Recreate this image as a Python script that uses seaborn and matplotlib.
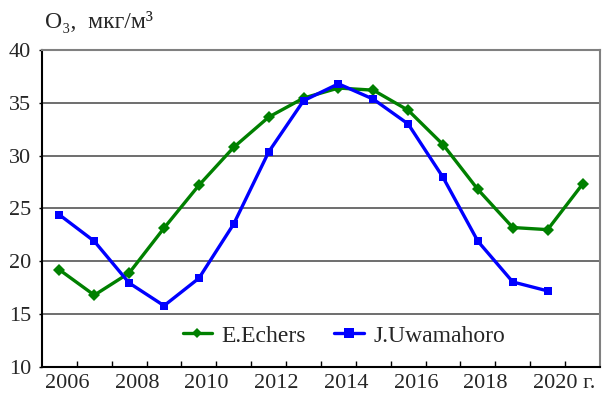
import numpy as np
import pandas as pd
import matplotlib
matplotlib.use("Agg")
import matplotlib.pyplot as plt
import seaborn as sns

years_echers = list(range(2006, 2022))
o3_echers = [19.2, 16.8, 18.9, 23.15, 27.2, 30.8, 33.65, 35.45, 36.4, 36.2, 34.3, 31.05, 26.8, 23.2, 23.0, 27.3]

years_uwam = list(range(2006, 2021))
o3_uwam = [24.4, 21.9, 17.95, 15.8, 18.4, 23.55, 30.35, 35.2, 36.8, 35.35, 33.0, 27.95, 21.9, 18.05, 17.2]

label_years = [2006, 2008, 2010, 2012, 2014, 2016, 2018, 2020]
tick_labels = ["2006", "2008", "2010", "2012", "2014", "2016", "2018", "2020 г."]
y_ticks = [10, 15, 20, 25, 30, 35, 40]

df = pd.concat([
    pd.DataFrame({"year": years_echers, "o3": o3_echers, "source": "E.Echers"}),
    pd.DataFrame({"year": years_uwam, "o3": o3_uwam, "source": "J.Uwamahoro"}),
])

sns.set_style("white")
plt.rcParams["font.family"] = "serif"
plt.rcParams["font.serif"] = ["Liberation Serif", "DejaVu Serif", "Times New Roman"]

fig = plt.figure(figsize=(6.06, 4.0), dpi=100)
ax = fig.add_axes([0.0693, 0.0825, 0.9207, 0.7925])

for y in y_ticks[1:-1]:
    ax.axhline(y, color="#555555", lw=1.2, zorder=0)

sns.lineplot(data=df, x="year", y="o3", hue="source", style="source",
             palette={"E.Echers": "#008000", "J.Uwamahoro": "#0000FF"},
             markers={"E.Echers": "D", "J.Uwamahoro": "s"},
             dashes=False, lw=2.4, ax=ax,
             markeredgewidth=0)
for line, ms in zip(ax.lines[-2:], [5.5, 7.5]):
    line.set_markersize(ms)

ax.set_xlim(2005.5, 2021.5)
ax.set_ylim(10, 40)
ax.set_yticks(y_ticks)
ax.tick_params(axis="y", labelsize=16, length=2, width=1, color="black", pad=6, direction="out", left=True)

ax.set_xticks([y + 0.5 for y in range(2006, 2021)])
ax.set_xticklabels([])
ax.tick_params(axis="x", which="major", direction="in", length=4, width=1, color="black", bottom=True)
ax.set_xticks([y - 0.42 for y in label_years], minor=True)
ax.set_xticklabels(tick_labels, minor=True, ha="left")
ax.tick_params(axis="x", which="minor", length=0, labelsize=16, pad=5)

ax.set_xlabel("")
ax.set_ylabel("")

for s in ["left", "bottom"]:
    ax.spines[s].set_color("black")
    ax.spines[s].set_linewidth(1.5)
for s in ["top", "right"]:
    ax.spines[s].set_color("#808080")
    ax.spines[s].set_linewidth(1.5)

handles, labels = ax.get_legend_handles_labels()
leg = ax.legend(handles, labels, loc="center", bbox_to_anchor=(0.541, 0.098), ncol=2, frameon=False,
                fontsize=17, handlelength=1.25, columnspacing=1.2, handletextpad=0.4)

fig.text(0.074, 0.945, "O₃,  мкг/м³", fontsize=17, ha="left", va="center")

fig.savefig("out.png", dpi=100)
